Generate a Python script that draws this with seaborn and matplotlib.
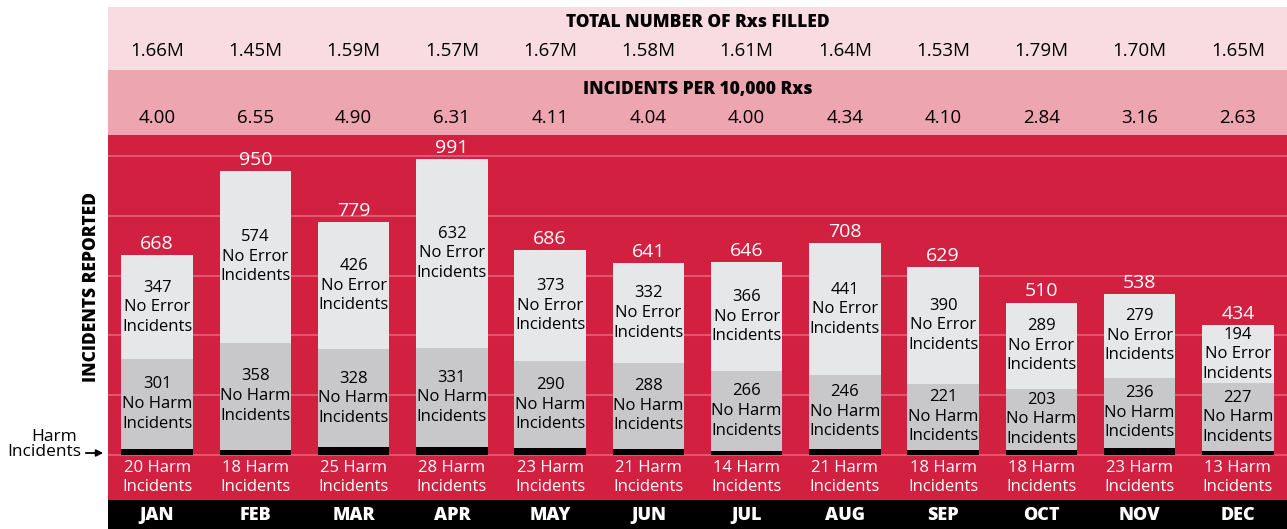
import seaborn as sns
import pandas as pd
import matplotlib.pyplot as plt

months = ['JAN', 'FEB', 'MAR', 'APR', 'MAY', 'JUN', 'JUL', 'AUG', 'SEP', 'OCT', 'NOV', 'DEC']
rxs_filled = ['1.66M', '1.45M', '1.59M', '1.57M', '1.67M', '1.58M',
              '1.61M', '1.64M', '1.53M', '1.79M', '1.70M', '1.65M']
rate_per_10k = [4.00, 6.55, 4.90, 6.31, 4.11, 4.04, 4.00, 4.34, 4.10, 2.84, 3.16, 2.63]
no_error = [347, 574, 426, 632, 373, 332, 366, 441, 390, 289, 279, 194]
no_harm = [301, 358, 328, 331, 290, 288, 266, 246, 221, 203, 236, 227]
harm = [20, 18, 25, 28, 23, 21, 14, 21, 18, 18, 23, 13]

df = pd.DataFrame({'month': months, 'no_error': no_error, 'no_harm': no_harm, 'harm': harm})
df['mid'] = df['harm'] + df['no_harm']
df['total'] = df['mid'] + df['no_error']

plt.rcParams['font.family'] = ['Open Sans', 'DejaVu Sans']

RED = '#D22040'
PINK1 = '#F9DCE1'
PINK2 = '#EDA5AF'
LIGHT = '#E6E7E9'
GRAY = '#C8C8CA'

W, H = 1287, 529
fig = plt.figure(figsize=(W / 100, H / 100), dpi=100)


def px_axes(x0, y0, x1, y1):
    a = fig.add_axes([x0 / W, 1 - y1 / H, (x1 - x0) / W, (y1 - y0) / H])
    a.set_xlim(-0.5, 11.5)
    a.set_xticks([])
    a.set_yticks([])
    for s in a.spines.values():
        s.set_visible(False)
    return a


# top band: total Rxs filled
band1 = px_axes(108, 7, W, 70)
band1.set_facecolor(PINK1)
band1.set_ylim(0, 1)
band1.text(5.5, 0.76, 'TOTAL NUMBER OF Rxs FILLED', ha='center', va='center',
           fontsize=12.5, fontweight='heavy')
for i, v in enumerate(rxs_filled):
    band1.text(i, 0.3, v, ha='center', va='center', fontsize=13.5)

# second band: incidents per 10k
band2 = px_axes(108, 70, W, 135)
band2.set_facecolor(PINK2)
band2.set_ylim(0, 1)
band2.text(5.5, 0.7, 'INCIDENTS PER 10,000 Rxs', ha='center', va='center',
           fontsize=12.5, fontweight='heavy')
for i, v in enumerate(rate_per_10k):
    band2.text(i, 0.26, f'{v:.2f}', ha='center', va='center', fontsize=13.5)

# main stacked bars
ax = px_axes(108, 135, W, 500)
ax.set_facecolor(RED)
ax.set_ylim(-151, 1071)
for g in range(0, 1001, 200):
    ax.axhline(g, color='#E0566D', lw=1.5, zorder=0)

bw = 0.73
sns.barplot(data=df, x='month', y='total', color=LIGHT, saturation=1, width=bw,
            ax=ax, zorder=2, linewidth=0)
sns.barplot(data=df, x='month', y='mid', color=GRAY, saturation=1, width=bw,
            ax=ax, zorder=3, linewidth=0)
sns.barplot(data=df, x='month', y='harm', color='black', saturation=1, width=bw,
            ax=ax, zorder=4, linewidth=0)
ax.set_xlim(-0.5, 11.5)
ax.set_xlabel('')
ax.set_ylabel('')
ax.set_xticks([])
ax.set_yticks([])

for i, r in df.iterrows():
    ax.annotate(f"{r['total']}", (i, r['total']), xytext=(0, 1.5), textcoords='offset points',
                ha='center', va='bottom', color='white', fontsize=14, zorder=5)
    ax.text(i, r['mid'] + r['no_error'] / 2, f"{r['no_error']}\nNo Error\nIncidents",
            ha='center', va='center', fontsize=12, linespacing=1.3, zorder=5)
    ax.text(i, r['harm'] + r['no_harm'] / 2, f"{r['no_harm']}\nNo Harm\nIncidents",
            ha='center', va='center', fontsize=12, linespacing=1.3, zorder=5)
    ax.annotate(f"{r['harm']} Harm\nIncidents", (i, 0), xytext=(0, -3.5), textcoords='offset points',
                ha='center', va='top', color='white', fontsize=12,
                linespacing=1.3, zorder=5)

# month strip
strip = px_axes(108, 500, W, H)
strip.set_facecolor('black')
strip.set_ylim(0, 1)
for i, m in enumerate(months):
    strip.text(i, 0.45, m, ha='center', va='center', color='white',
               fontsize=13, fontweight='heavy')

# left side labels in pixel coordinates
over = fig.add_axes([0, 0, 1, 1], facecolor='none')
over.set_xlim(0, W)
over.set_ylim(H, 0)
over.axis('off')
over.text(91, 287, 'INCIDENTS REPORTED', rotation=90, ha='center', va='center',
          fontsize=12.5, fontweight='heavy')
over.text(54, 437, 'Harm', ha='center', va='center', fontsize=12.5)
over.text(44, 452, 'Incidents', ha='center', va='center', fontsize=12.5)
over.annotate('', xy=(106, 453), xytext=(83, 453),
              arrowprops=dict(arrowstyle='-|>', color='black', lw=1.3, mutation_scale=10))

fig.savefig('out.png', dpi=100)
